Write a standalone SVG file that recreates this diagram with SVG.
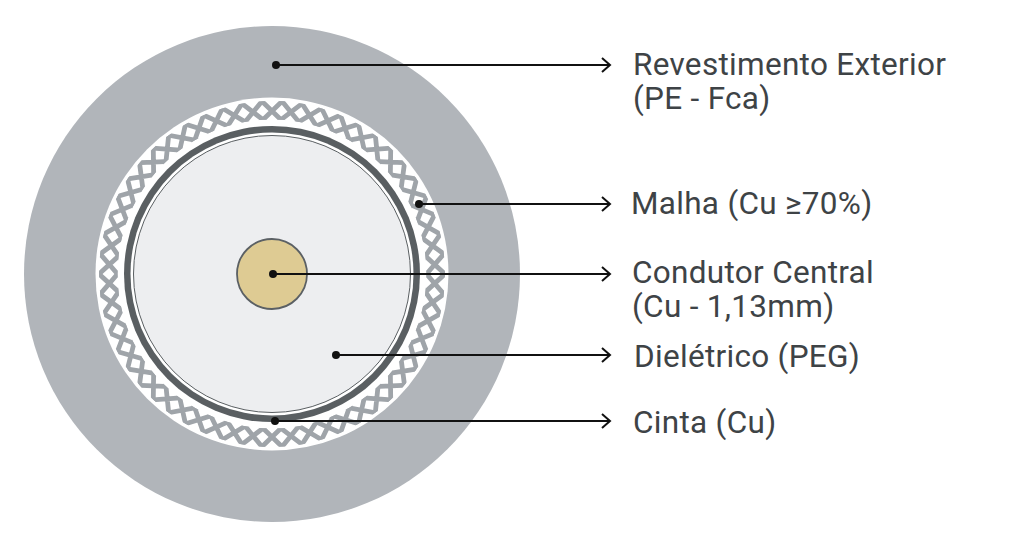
<svg xmlns="http://www.w3.org/2000/svg" xmlns:xlink="http://www.w3.org/1999/xlink" width="1018" height="549" viewBox="0 0 1018 549">
<style>
.lbl{font-family:Roboto,"Liberation Sans",sans-serif;font-size:31.5px;letter-spacing:0.3px;fill:#3e4346}
.conn{stroke:#111;stroke-width:2;fill:none}
.dot{fill:#111}
.br{stroke:#9fa4a9;stroke-width:4.8;fill:none}
</style>
<defs>
<marker id="arr" markerUnits="userSpaceOnUse" markerWidth="14" markerHeight="18" refX="10" refY="9" orient="auto">
<path d="M2,2 L10,9 L2,16" fill="none" stroke="#111" stroke-width="2"/>
</marker>
<clipPath id="ring">
<path clip-rule="evenodd" d="M272,101a173,173 0 1,0 0.01,0z M272,119.5a154.5,154.5 0 1,0 0.01,0z"/>
</clipPath>
<path id="x" d="M-12.92,-175.48L11.84,-151.47M12.92,-175.48L-11.84,-151.47"/>
</defs>
<rect width="1018" height="549" fill="#fff"/>
<g id="cable">
<g id="jacket"><circle cx="272" cy="274" r="248" fill="#b1b5ba"/></g>
<g id="braid">
<circle cx="272" cy="274" r="176.5" fill="#fff"/>
<g clip-path="url(#ring)">
<g class="br" transform="translate(272 274)">
<use xlink:href="#x" transform="rotate(0)"/><use xlink:href="#x" transform="rotate(6.667)"/><use xlink:href="#x" transform="rotate(13.333)"/><use xlink:href="#x" transform="rotate(20)"/><use xlink:href="#x" transform="rotate(26.667)"/><use xlink:href="#x" transform="rotate(33.333)"/><use xlink:href="#x" transform="rotate(40)"/><use xlink:href="#x" transform="rotate(46.667)"/><use xlink:href="#x" transform="rotate(53.333)"/>
<use xlink:href="#x" transform="rotate(60)"/><use xlink:href="#x" transform="rotate(66.667)"/><use xlink:href="#x" transform="rotate(73.333)"/><use xlink:href="#x" transform="rotate(80)"/><use xlink:href="#x" transform="rotate(86.667)"/><use xlink:href="#x" transform="rotate(93.333)"/><use xlink:href="#x" transform="rotate(100)"/><use xlink:href="#x" transform="rotate(106.667)"/><use xlink:href="#x" transform="rotate(113.333)"/>
<use xlink:href="#x" transform="rotate(120)"/><use xlink:href="#x" transform="rotate(126.667)"/><use xlink:href="#x" transform="rotate(133.333)"/><use xlink:href="#x" transform="rotate(140)"/><use xlink:href="#x" transform="rotate(146.667)"/><use xlink:href="#x" transform="rotate(153.333)"/><use xlink:href="#x" transform="rotate(160)"/><use xlink:href="#x" transform="rotate(166.667)"/><use xlink:href="#x" transform="rotate(173.333)"/>
<use xlink:href="#x" transform="rotate(180)"/><use xlink:href="#x" transform="rotate(186.667)"/><use xlink:href="#x" transform="rotate(193.333)"/><use xlink:href="#x" transform="rotate(200)"/><use xlink:href="#x" transform="rotate(206.667)"/><use xlink:href="#x" transform="rotate(213.333)"/><use xlink:href="#x" transform="rotate(220)"/><use xlink:href="#x" transform="rotate(226.667)"/><use xlink:href="#x" transform="rotate(233.333)"/>
<use xlink:href="#x" transform="rotate(240)"/><use xlink:href="#x" transform="rotate(246.667)"/><use xlink:href="#x" transform="rotate(253.333)"/><use xlink:href="#x" transform="rotate(260)"/><use xlink:href="#x" transform="rotate(266.667)"/><use xlink:href="#x" transform="rotate(273.333)"/><use xlink:href="#x" transform="rotate(280)"/><use xlink:href="#x" transform="rotate(286.667)"/><use xlink:href="#x" transform="rotate(293.333)"/>
<use xlink:href="#x" transform="rotate(300)"/><use xlink:href="#x" transform="rotate(306.667)"/><use xlink:href="#x" transform="rotate(313.333)"/><use xlink:href="#x" transform="rotate(320)"/><use xlink:href="#x" transform="rotate(326.667)"/><use xlink:href="#x" transform="rotate(333.333)"/><use xlink:href="#x" transform="rotate(340)"/><use xlink:href="#x" transform="rotate(346.667)"/><use xlink:href="#x" transform="rotate(353.333)"/>
</g>
</g>
</g>
<g id="tape"><circle cx="272" cy="274" r="148" fill="#5a5f62"/><circle cx="272" cy="274" r="141.5" fill="#fff"/></g>
<g id="dielectric"><circle cx="272" cy="274" r="138.5" fill="#edeef0" stroke="#5a5f62" stroke-width="1"/></g>
<g id="conductor"><circle cx="272" cy="274" r="35" fill="#decb93" stroke="#5b6064" stroke-width="1.8"/></g>
</g>
<g id="connectors">
<line class="conn" x1="276" y1="65" x2="610" y2="65" marker-end="url(#arr)"/>
<line class="conn" x1="419" y1="204" x2="610" y2="204" marker-end="url(#arr)"/>
<line class="conn" x1="273" y1="274" x2="610" y2="274" marker-end="url(#arr)"/>
<line class="conn" x1="336" y1="355" x2="610" y2="355" marker-end="url(#arr)"/>
<line class="conn" x1="275" y1="421" x2="610" y2="421" marker-end="url(#arr)"/>
<circle class="dot" cx="276" cy="65" r="4"/>
<circle class="dot" cx="419" cy="204" r="4"/>
<circle class="dot" cx="273" cy="274" r="4"/>
<circle class="dot" cx="336" cy="355" r="4"/>
<circle class="dot" cx="275" cy="421" r="4"/>
</g>
<g id="label-revestimento"><text class="lbl" x="633" y="75">Revestimento Exterior</text><text class="lbl" x="633" y="109">(PE - Fca)</text></g>
<g id="label-malha"><text class="lbl" x="631" y="214">Malha (Cu ≥70%)</text></g>
<g id="label-condutor"><text class="lbl" x="632" y="283">Condutor Central</text><text class="lbl" x="632" y="317">(Cu - 1,13mm)</text></g>
<g id="label-dieletrico"><text class="lbl" x="634" y="367">Dielétrico (PEG)</text></g>
<g id="label-cinta"><text class="lbl" x="633" y="433">Cinta (Cu)</text></g>
</svg>
